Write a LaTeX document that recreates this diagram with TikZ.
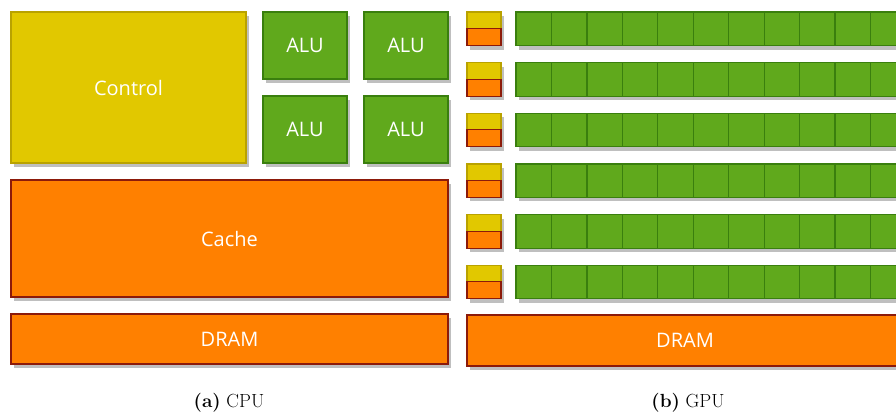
\documentclass[tikz,border=0pt]{standalone}
\usepackage{fontspec}
\newfontfamily\boxfont{Open Sans}
\usetikzlibrary{shadows}
\definecolor{yfill}{RGB}{225,200,0}
\definecolor{ydraw}{RGB}{185,162,0}
\definecolor{gfill}{RGB}{96,169,28}
\definecolor{gdraw}{RGB}{58,127,14}
\definecolor{ofill}{RGB}{255,128,0}
\definecolor{odraw}{RGB}{140,26,10}
\begin{document}
\begin{tikzpicture}[x=1pt,y=-1pt,
  blk/.style={rectangle, anchor=north west, inner sep=0pt, outer sep=0pt,
    line width=1.2pt, font=\boxfont\fontsize{20}{23}\selectfont, text=white,
    general shadow={fill=black, opacity=.25, shadow xshift=3pt, shadow yshift=-4pt}},
  ctl/.style={blk, fill=yfill, draw=ydraw},
  alu/.style={blk, fill=gfill, draw=gdraw},
  mem/.style={blk, fill=ofill, draw=odraw},
  captxt/.style={anchor=base, font=\fontsize{19}{21}\selectfont, inner sep=0pt}]
\useasboundingbox (0,0) rectangle (896,416);
\clip (0,0) rectangle (896,416);
% CPU
\node[ctl, minimum width=235pt, minimum height=151pt] (control) at (11,12) {Control};
\node[alu, minimum width=84pt, minimum height=67pt] (alu1) at (263,12) {ALU};
\node[alu, minimum width=84pt, minimum height=67pt] (alu2) at (364,12) {ALU};
\node[alu, minimum width=84pt, minimum height=67pt] (alu3) at (263,96) {ALU};
\node[alu, minimum width=84pt, minimum height=67pt] (alu4) at (364,96) {ALU};
\node[mem, minimum width=437pt, minimum height=117pt] (cache) at (11,180) {Cache};
\node[mem, minimum width=437pt, minimum height=50pt] (dramc) at (11,314) {DRAM};
% GPU
\foreach \i in {0,...,5}{
  \pgfmathsetmacro{\yy}{12+50.65*\i}
  \node[ctl, minimum width=34pt, minimum height=16.5pt] (gy\i) at (467,\yy) {};
  \node[mem, minimum width=34pt, minimum height=17pt] (go\i) at (467,\yy+16.5) {};
  \foreach \j in {0,...,11}{
    \node[alu, minimum width=35.45pt, minimum height=33.5pt] (gc\i-\j) at ({516+35.45*\j},\yy) {};
  }
}
\node[mem, minimum width=436pt, minimum height=51pt] (dramg) at (467,315) {DRAM};
% captions
\node[captxt] (capa) at (229,407) {\textbf{(a)} CPU};
\node[captxt] (capb) at (688,407) {\textbf{(b)} GPU};
\end{tikzpicture}
\end{document}
